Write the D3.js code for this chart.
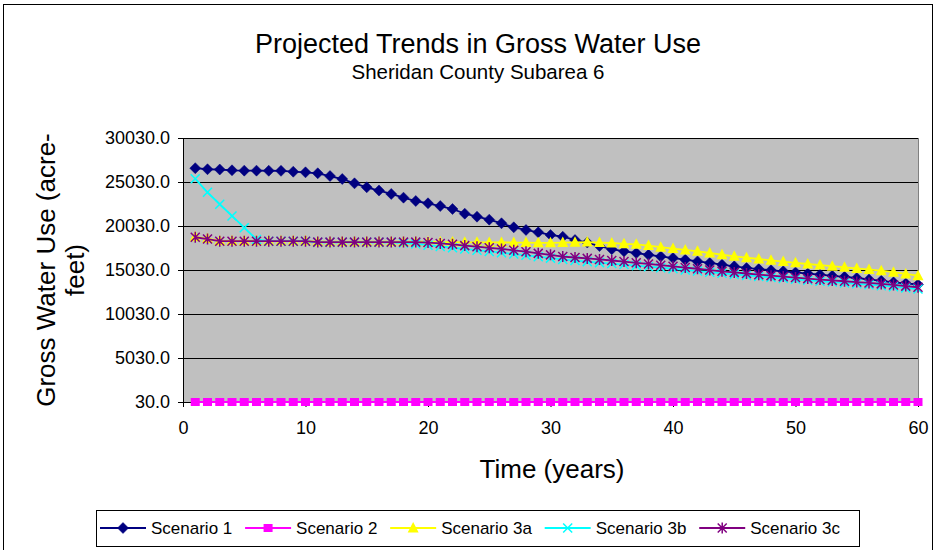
<!DOCTYPE html>
<html>
<head>
<meta charset="utf-8">
<script src="https://cdn.jsdelivr.net/npm/d3@7"></script>
<style>
  html, body { margin: 0; padding: 0; background: #fff; }
  svg { display: block; font-family: "Liberation Sans", Arial, sans-serif; }
</style>
</head>
<body>
<svg id="chart" width="937" height="550"></svg>
<script>
// Years 1..60 of the projection
const years = d3.range(1, 61);

// Gross water use (acre-feet) per scenario, one value per year
const scenario1 = [
  26600, 26480, 26450, 26360, 26320, 26320, 26310, 26300, 26200, 26130,
  26020, 25710, 25370, 24880, 24430, 24060, 23670, 23250, 22870, 22610,
  22300, 21960, 21430, 21090, 20750, 20340, 19880, 19580, 19310, 19010,
  18810, 18440, 18150, 17750, 17400, 17150, 16960, 16750, 16570, 16390,
  16200, 16010, 15830, 15640, 15450, 15260, 15130, 15000, 14880, 14750,
  14620, 14500, 14370, 14250, 14120, 13960, 13800, 13630, 13500, 13380
];
const scenario2 = [
  30, 30, 30, 30, 30, 30, 30, 30, 30, 30,
  30, 30, 30, 30, 30, 30, 30, 30, 30, 30,
  30, 30, 30, 30, 30, 30, 30, 30, 30, 30,
  30, 30, 30, 30, 30, 30, 30, 30, 30, 30,
  30, 30, 30, 30, 30, 30, 30, 30, 30, 30,
  30, 30, 30, 30, 30, 30, 30, 30, 30, 30
];
const scenario3a = [
  18800, 18600, 18350, 18350, 18350, 18350, 18350, 18350, 18350, 18350,
  18250, 18250, 18250, 18250, 18250, 18250, 18250, 18250, 18250, 18250,
  18200, 18200, 18180, 18180, 18160, 18160, 18150, 18150, 18120, 18120,
  18150, 18180, 18200, 18150, 18100, 18000, 17950, 17800, 17620, 17470,
  17310, 17150, 16960, 16770, 16590, 16430, 16280, 16130, 15990, 15850,
  15710, 15590, 15460, 15340, 15210, 15080, 14950, 14780, 14580, 14380
];
const scenario3b = [
  25400, 23860, 22500, 21170, 19840, 18500, 18300, 18300, 18300, 18300,
  18180, 18180, 18180, 18180, 18180, 18180, 18180, 18100, 18000, 17850,
  17700, 17560, 17420, 17280, 17140, 17000, 16850, 16700, 16540, 16380,
  16230, 16100, 15980, 15870, 15760, 15650, 15530, 15410, 15290, 15170,
  15040, 14910, 14780, 14650, 14530, 14410, 14300, 14190, 14080, 13970,
  13860, 13760, 13660, 13560, 13460, 13360, 13250, 13130, 13000, 12870
];
const scenario3c = [
  18750, 18550, 18300, 18300, 18300, 18300, 18300, 18300, 18300, 18300,
  18200, 18200, 18200, 18200, 18200, 18200, 18200, 18200, 18200, 18150,
  18050, 17950, 17800, 17680, 17550, 17420, 17270, 17110, 16920, 16750,
  16560, 16450, 16350, 16230, 16110, 15990, 15850, 15720, 15580, 15450,
  15310, 15170, 15020, 14880, 14760, 14630, 14500, 14390, 14280, 14170,
  14050, 13940, 13850, 13750, 13660, 13560, 13450, 13330, 13200, 13070
];

const seriesNames = ["Scenario 1", "Scenario 2", "Scenario 3a", "Scenario 3b", "Scenario 3c"];
const seriesColors = ["#000080", "#FF00FF", "#FFFF00", "#00FFFF", "#800080"];
const seriesShapes = ["diamond", "square", "triangle", "cross", "asterisk"];
const seriesValues = [scenario1, scenario2, scenario3a, scenario3b, scenario3c];

const yTicks = [30, 5030, 10030, 15030, 20030, 25030, 30030];
const xTicks = [0, 10, 20, 30, 40, 50, 60];

const titleText = "Projected Trends in Gross Water Use";
const subtitleText = "Sheridan County Subarea 6";
const xTitle = "Time (years)";
const yTitleLines = ["Gross Water Use (acre-", "feet)"];

const svg = d3.select("#chart");
const plot = { left: 183, right: 918, top: 138, bottom: 402 };

const x = d3.scaleLinear().domain([0, 60]).range([plot.left, plot.right]);
const y = d3.scaleLinear().domain([30, 30030]).range([plot.bottom, plot.top]);

// chart area frame
svg.append("rect")
  .attr("x", 3.5).attr("y", 4.5)
  .attr("width", 929).attr("height", 600)
  .attr("fill", "#fff").attr("stroke", "#000").attr("stroke-width", 1);

// titles
svg.append("text")
  .attr("x", 478).attr("y", 53)
  .attr("text-anchor", "middle")
  .attr("font-size", 27)
  .text(titleText);
svg.append("text")
  .attr("x", 478).attr("y", 79)
  .attr("text-anchor", "middle")
  .attr("font-size", 20.5)
  .text(subtitleText);

// plot area background
svg.append("rect")
  .attr("x", plot.left).attr("y", plot.top)
  .attr("width", plot.right - plot.left).attr("height", plot.bottom - plot.top)
  .attr("fill", "#C0C0C0");
svg.append("line")
  .attr("x1", plot.right + 0.5).attr("x2", plot.right + 0.5)
  .attr("y1", plot.top).attr("y2", plot.bottom)
  .attr("stroke", "#808080").attr("stroke-width", 1);

// horizontal gridlines
svg.append("g")
  .selectAll("line")
  .data(yTicks)
  .join("line")
  .attr("x1", plot.left).attr("x2", plot.right)
  .attr("y1", d => Math.round(y(d)) + 0.5).attr("y2", d => Math.round(y(d)) + 0.5)
  .attr("stroke", "#000").attr("stroke-width", 1);

// axes
const yAxis = d3.axisLeft(y)
  .tickValues(yTicks)
  .tickFormat(d3.format(".1f"))
  .tickSize(5)
  .tickPadding(8)
  .offset(0.5);
const gy = svg.append("g")
  .attr("transform", `translate(${plot.left},0)`)
  .call(yAxis);
gy.selectAll("text").attr("font-size", 18).attr("fill", "#000")
  .attr("font-family", "'Liberation Sans', Arial, sans-serif");
gy.selectAll("line, path").attr("stroke", "#000");

const xAxis = d3.axisBottom(x)
  .tickValues(xTicks)
  .tickFormat(d3.format("d"))
  .tickSize(5)
  .tickPadding(14)
  .offset(0.5);
const gx = svg.append("g")
  .attr("transform", `translate(0,${plot.bottom})`)
  .call(xAxis);
gx.selectAll("text").attr("font-size", 18).attr("fill", "#000")
  .attr("font-family", "'Liberation Sans', Arial, sans-serif");
gx.selectAll("line, path").attr("stroke", "#000");

// axis titles
svg.append("text")
  .attr("x", 552).attr("y", 478)
  .attr("text-anchor", "middle")
  .attr("font-size", 26)
  .text(xTitle);
const yTitle = svg.append("text")
  .attr("transform", "translate(55,270) rotate(-90)")
  .attr("text-anchor", "middle")
  .attr("font-size", 26);
yTitleLines.forEach((line, i) => {
  yTitle.append("tspan")
    .attr("x", 0).attr("dy", i === 0 ? 0 : 29)
    .text(line);
});

// marker shapes
function drawMarker(g, shape, color, cx, cy) {
  if (shape === "diamond") {
    g.append("path")
      .attr("d", `M${cx},${cy - 5.5}L${cx + 5.5},${cy}L${cx},${cy + 5.5}L${cx - 5.5},${cy}Z`)
      .attr("fill", color).attr("stroke", color).attr("stroke-width", 0.5);
  } else if (shape === "square") {
    g.append("rect")
      .attr("x", cx - 4.5).attr("y", cy - 4).attr("width", 9).attr("height", 8)
      .attr("fill", color);
  } else if (shape === "triangle") {
    g.append("path")
      .attr("d", `M${cx},${cy - 6}L${cx + 5.5},${cy + 4.5}L${cx - 5.5},${cy + 4.5}Z`)
      .attr("fill", color);
  } else if (shape === "cross") {
    g.append("path")
      .attr("d", `M${cx - 4.5},${cy - 4.5}L${cx + 4.5},${cy + 4.5}M${cx + 4.5},${cy - 4.5}L${cx - 4.5},${cy + 4.5}`)
      .attr("stroke", color).attr("stroke-width", 1.5).attr("fill", "none");
  } else if (shape === "asterisk") {
    g.append("path")
      .attr("d", `M${cx - 4.5},${cy - 4.5}L${cx + 4.5},${cy + 4.5}M${cx + 4.5},${cy - 4.5}L${cx - 4.5},${cy + 4.5}M${cx},${cy - 5.5}L${cx},${cy + 5.5}`)
      .attr("stroke", color).attr("stroke-width", 1.5).attr("fill", "none");
  }
}

// series lines and markers
const lineGen = d3.line()
  .x(d => x(d[0]))
  .y(d => y(d[1]));

seriesValues.forEach((vals, si) => {
  const pts = years.map((yr, i) => [yr, vals[i]]);
  const g = svg.append("g").attr("class", "series");
  g.append("path")
    .datum(pts)
    .attr("d", lineGen)
    .attr("fill", "none")
    .attr("stroke", seriesColors[si])
    .attr("stroke-width", 1.8);
  pts.forEach(p => drawMarker(g, seriesShapes[si], seriesColors[si], x(p[0]), y(p[1])));
});

// legend: entries spread evenly between the box edges
const legend = svg.append("g");
legend.append("rect")
  .attr("x", 96.5).attr("y", 510.5)
  .attr("width", 763).attr("height", 36)
  .attr("fill", "#fff").attr("stroke", "#000").attr("stroke-width", 1);
const ly = 528;
const sampleLen = 46;
const textOffset = 51;
const legendStart = 100;
const legendEnd = 840;
const items = seriesNames.map((name, si) => {
  const item = legend.append("g");
  item.append("line")
    .attr("x1", 0).attr("x2", sampleLen)
    .attr("y1", ly).attr("y2", ly)
    .attr("stroke", seriesColors[si]).attr("stroke-width", 1.8);
  drawMarker(item, seriesShapes[si], seriesColors[si], sampleLen / 2, ly);
  const t = item.append("text")
    .attr("x", textOffset).attr("y", ly + 6)
    .attr("font-size", 17)
    .text(name);
  return { item, width: textOffset + t.node().getComputedTextLength() };
});
const totalW = d3.sum(items, d => d.width);
const gap = (legendEnd - legendStart - totalW) / (items.length - 1);
let lx = legendStart;
items.forEach(d => {
  d.item.attr("transform", `translate(${lx},0)`);
  lx += d.width + gap;
});
</script>
</body>
</html>
